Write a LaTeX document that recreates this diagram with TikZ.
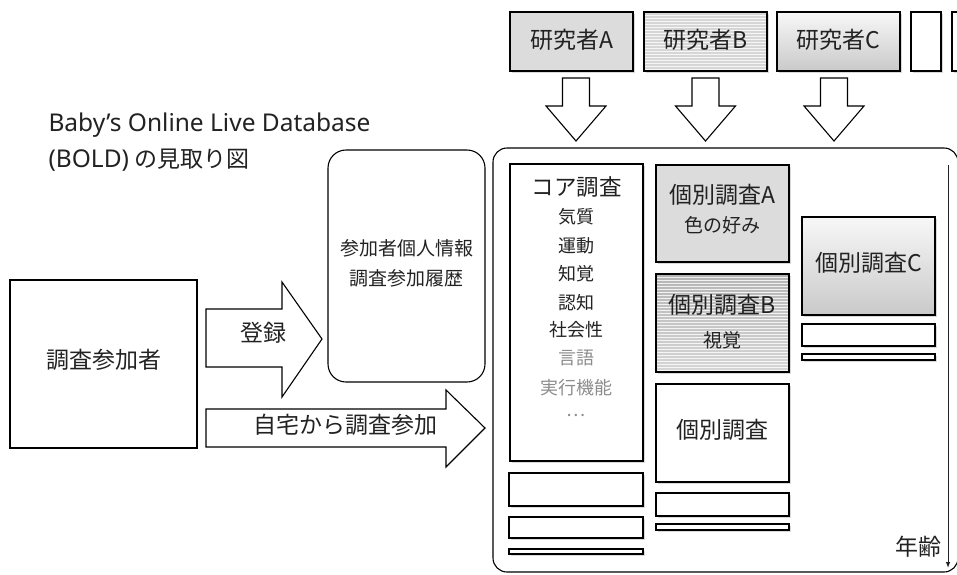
\documentclass[tikz,border=0pt]{standalone}
\usepackage{fontspec}
\setmainfont{Noto Sans CJK JP}
\newfontfamily\lat{Noto Sans}
\usetikzlibrary{shadows,arrows.meta}
\definecolor{ink}{HTML}{222222}
\definecolor{soft}{HTML}{8C8C8C}
\definecolor{fillA}{HTML}{DCDCDC}
\begin{document}
\begin{tikzpicture}[x=1pt,y=-1pt,
  box/.style={draw=black, line width=1.1pt, fill=white, inner sep=0pt, text=ink},
  shad/.style={drop shadow={shadow xshift=1.5pt, shadow yshift=-1.5pt, opacity=.3}},
  fbig/.style={font=\fontsize{23}{27}\selectfont, text=ink},
  ftitle/.style={font=\fontsize{24.5}{28}\selectfont, text=ink},
  fmid/.style={font=\fontsize{19}{22}\selectfont, text=ink},
  fsmall/.style={font=\fontsize{18}{21}\selectfont, text=ink},
  stripes/.style={path picture={\foreach \k in {1,...,40}{\draw[white,opacity=.8,line width=.8pt] ([yshift=-\k*3pt]path picture bounding box.north west) -- ++(300pt,0);}}},
  blockarrow/.style={draw=black, fill=white, line width=1.1pt, line join=miter}
]
\useasboundingbox (0,0) rectangle (957,574);

% title
\node[ftitle, anchor=west] (t1) at (45,125) {\lat Baby’s Online Live Database};
\node[ftitle, anchor=west] (t2) at (45,160) {{\lat (BOLD)} {\fontsize{23}{27}\selectfont の見取り図}};

% researchers
\node[box, shad, fill=fillA, minimum width=123pt, minimum height=59pt] (rA) at (571.5,41.5) {};
\node[box, shad, fill=gray!32, stripes, minimum width=123pt, minimum height=59pt] (rB) at (705.5,41.5) {};
\node[box, shad, top color=gray!6, bottom color=gray!42, minimum width=123pt, minimum height=59pt] (rC) at (838.5,41.5) {};
\node[box, shad, minimum width=30pt, minimum height=59pt] (rD) at (926,41.5) {};
\node[box, shad, minimum width=38pt, minimum height=59pt] (rE) at (971,41.5) {};
\node[fbig] (rAt) at (571.5,40) {研究者A};
\node[fbig] (rBt) at (705.5,40) {研究者B};
\node[fbig] (rCt) at (838.5,40) {研究者C};

% down arrows
\foreach \c in {576,705.5,834}{
  \draw[blockarrow] ({\c-13.5},78) -- ({\c+13.5},78) -- ({\c+13.5},106) -- ({\c+30},106) -- (\c,141) -- ({\c-30},106) -- ({\c-13.5},106) -- cycle;
}

% database container
\node[draw=black, line width=1.1pt, rounded corners=14pt, minimum width=465pt, minimum height=424pt] (db) at (725.5,360) {};

% core survey
\node[box, shad, minimum width=133pt, minimum height=297pt] (core) at (576.5,312.5) {};
\node[fbig, font=\fontsize{22.5}{26}\selectfont] (coreT) at (576.5,187) {コア調査};
\node[fsmall] (k1) at (576.5,217) {気質};
\node[fsmall] (k2) at (576.5,246) {運動};
\node[fsmall] (k3) at (576.5,274) {知覚};
\node[fsmall] (k4) at (576.5,303) {認知};
\node[fsmall] (k5) at (576.5,330) {社会性};
\node[fsmall, text=soft] (k6) at (576.5,358) {言語};
\node[fsmall, text=soft] (k7) at (576.5,388) {実行機能};
\node[fsmall, text=soft] (k8) at (576.5,415) {…};
\node[box, shad, minimum width=134pt, minimum height=33pt] (c1) at (576,489.5) {};
\node[box, shad, minimum width=134pt, minimum height=21pt] (c2) at (576,527.5) {};
\node[box, shad, minimum width=134pt, minimum height=5pt] (c3) at (576,551.5) {};

% individual surveys
\node[box, shad, fill=fillA, minimum width=133pt, minimum height=97pt] (sA) at (722.5,213.5) {};
\node[fbig] (sAt) at (722.5,195) {個別調査A};
\node[fmid] (sAs) at (722.5,225) {色の好み};
\node[box, shad, top color=gray!58, bottom color=gray!32, stripes, minimum width=133pt, minimum height=98pt] (sB) at (722.5,323) {};
\node[fbig] (sBt) at (722.5,305) {個別調査B};
\node[fmid] (sBs) at (722.5,340) {視覚};
\node[box, shad, minimum width=133pt, minimum height=98pt] (sX) at (722.5,433) {};
\node[fbig] (sXt) at (722.5,430) {個別調査};
\node[box, shad, minimum width=133pt, minimum height=23pt] (s1) at (722.5,504.5) {};
\node[box, shad, minimum width=133pt, minimum height=6pt] (s2) at (722.5,527) {};
\node[box, shad, top color=gray!6, bottom color=gray!42, minimum width=133pt, minimum height=98pt] (sC) at (868.5,266) {};
\node[fbig] (sCt) at (868.5,263) {個別調査C};
\node[box, shad, minimum width=133pt, minimum height=22pt] (u1) at (868.5,335) {};
\node[box, shad, minimum width=133pt, minimum height=6pt] (u2) at (868.5,357) {};

% age axis
\coordinate (ageTop) at (948,165);
\coordinate (ageBot) at (948,568);
\draw[line width=1pt, draw=ink, -{Latex[length=6pt,width=4.5pt]}] (ageTop) -- (ageBot);
\node[fbig] (age) at (918,547) {年齢};

% participant
\node[box, minimum width=187pt, minimum height=168pt] (p) at (103.5,364) {};
\node[fbig] (pt) at (103.5,360) {調査参加者};

% info box
\node[draw=black, line width=1.1pt, rounded corners=18pt, minimum width=157pt, minimum height=232pt] (info) at (406.5,266) {};
\node[fmid] (i1) at (406.5,248) {参加者個人情報};
\node[fmid] (i2) at (406.5,278) {調査参加履歴};

% block arrows
\draw[blockarrow] (206,309) -- (282,309) -- (282,282) -- (322,339) -- (282,397) -- (282,367) -- (206,367) -- cycle;
\node[fbig] (regT) at (263,333) {登録};
\draw[blockarrow] (206,409) -- (446,409) -- (446,390) -- (485,428) -- (446,467) -- (446,447) -- (206,447) -- cycle;
\node[fbig] (homeT) at (345,425) {自宅から調査参加};
\end{tikzpicture}
\end{document}
